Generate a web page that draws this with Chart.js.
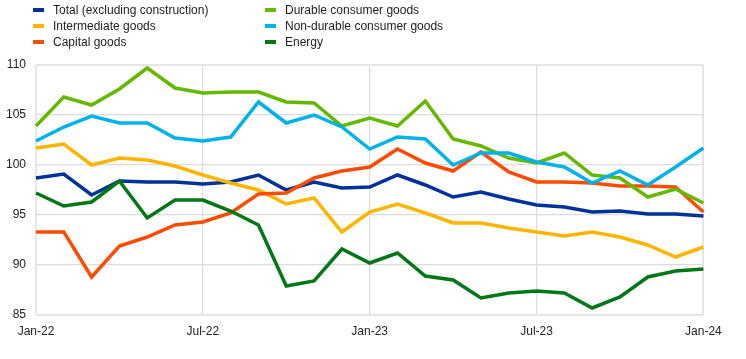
<!DOCTYPE html>
<html>
<head>
<meta charset="utf-8">
<script src="https://cdn.jsdelivr.net/npm/chart.js@4"></script>
<style>
  html, body { margin: 0; padding: 0; background: #fff; }
  #wrap { position: relative; width: 746px; height: 359px; }
  #legend { position: absolute; left: 0; top: 0; width: 746px; height: 60px;
    font-family: "Liberation Sans", Arial, sans-serif; font-size: 12px; color: #222; }
  .item { position: absolute; white-space: nowrap; line-height: 14px; }
  .mark { position: absolute; width: 11px; height: 4px; }
</style>
</head>
<body>
<div id="wrap">
  <canvas id="c" width="746" height="359"></canvas>
  <div id="legend"></div>
</div>
<script>
const labels = ["Jan-22","Feb-22","Mar-22","Apr-22","May-22","Jun-22","Jul-22","Aug-22","Sep-22","Oct-22","Nov-22","Dec-22",
  "Jan-23","Feb-23","Mar-23","Apr-23","May-23","Jun-23","Jul-23","Aug-23","Sep-23","Oct-23","Nov-23","Dec-23","Jan-24"];
const seriesNames = ["Total (excluding construction)","Intermediate goods","Capital goods","Durable consumer goods","Non-durable consumer goods","Energy"];
const total = [98.7, 99.1, 97.0, 98.4, 98.3, 98.3, 98.1, 98.3, 99.0, 97.5, 98.3, 97.7, 97.8, 99.0, 98.0, 96.8, 97.3, 96.6, 96.0, 95.8, 95.3, 95.4, 95.1, 95.1, 94.9];
const intermediate = [101.7, 102.1, 100.0, 100.7, 100.5, 99.9, 99.0, 98.2, 97.5, 96.1, 96.7, 93.3, 95.3, 96.1, 95.2, 94.2, 94.2, 93.7, 93.3, 92.9, 93.3, 92.8, 92.0, 90.8, 91.8];
const capital = [93.3, 93.3, 88.8, 91.9, 92.8, 94.0, 94.3, 95.2, 97.1, 97.2, 98.7, 99.4, 99.8, 101.6, 100.2, 99.4, 101.3, 99.3, 98.3, 98.3, 98.2, 97.9, 97.9, 97.8, 95.3];
const durable = [103.9, 106.8, 106.0, 107.6, 109.7, 107.7, 107.2, 107.3, 107.3, 106.3, 106.2, 103.9, 104.7, 103.9, 106.4, 102.6, 101.9, 100.7, 100.2, 101.2, 99.0, 98.7, 96.8, 97.6, 96.2];
const nondurable = [102.4, 103.8, 104.9, 104.2, 104.2, 102.7, 102.4, 102.8, 106.3, 104.2, 105.0, 103.8, 101.6, 102.8, 102.6, 100.0, 101.2, 101.2, 100.3, 99.8, 98.2, 99.4, 98.0, 99.8, 101.7];
const energy = [97.2, 95.9, 96.3, 98.4, 94.7, 96.5, 96.5, 95.4, 94.0, 87.9, 88.4, 91.6, 90.2, 91.2, 88.9, 88.5, 86.7, 87.2, 87.4, 87.2, 85.7, 86.8, 88.8, 89.4, 89.6];
const yTicks = [85, 90, 95, 100, 105, 110];

const colors = ["#003299", "#FFB400", "#FF4B00", "#65B800", "#00B1EA", "#007816"];
const values = [total, intermediate, capital, durable, nondurable, energy];

const datasets = values.map((v, i) => ({
  label: seriesNames[i],
  data: v,
  borderColor: colors[i],
  backgroundColor: colors[i],
  borderWidth: 3.5,
  pointRadius: 0,
  tension: 0,
  fill: false,
  order: 6 - i
}));

const ctx = document.getElementById('c').getContext('2d');
const chart = new Chart(ctx, {
  type: 'line',
  data: { labels: labels, datasets: datasets },
  options: {
    responsive: false,
    animation: false,
    devicePixelRatio: 1,
    layout: { padding: { top: 65, right: 42.6, left: 0, bottom: 0 } },
    plugins: { legend: { display: false }, tooltip: { enabled: false } },
    scales: {
      x: {
        type: 'category',
        offset: false,
        border: { display: false },
        grid: {
          drawTicks: false,
          color: c => (c.index === 0 || c.index === labels.length - 1) ? '#e6e6e6' : (c.index % 6 === 0 ? '#dcdcdc' : 'rgba(0,0,0,0)'),
          lineWidth: c => (c.index === 0 || c.index === labels.length - 1) ? 2 : 1.2
        },
        ticks: {
          autoSkip: false, maxRotation: 0, minRotation: 0, padding: 9,
          color: '#222',
          font: { family: '"Liberation Sans", Arial, sans-serif', size: 12 },
          callback: function(val, idx) { return idx % 6 === 0 ? labels[idx] : ''; }
        },
        afterFit: s => { s.height = 44; }
      },
      y: {
        min: yTicks[0], max: yTicks[yTicks.length - 1],
        border: { display: false },
        afterBuildTicks: s => { s.ticks = yTicks.map(v => ({ value: v })); },
        grid: {
          drawTicks: false,
          color: c => (c.index === 0 || c.index === yTicks.length - 1) ? '#e6e6e6' : '#dcdcdc',
          lineWidth: c => (c.index === 0 || c.index === yTicks.length - 1) ? 2 : 1.2
        },
        ticks: {
          padding: 10, color: '#222',
          font: { family: '"Liberation Sans", Arial, sans-serif', size: 12 }
        },
        afterFit: s => { s.width = 36; }
      }
    }
  }
});

// HTML legend (two columns, column-wise order)
const legend = document.getElementById('legend');
chart.data.datasets.forEach((ds, i) => {
  const col = Math.floor(i / 3), row = i % 3;
  const markX = col === 0 ? 33 : 265;
  const textX = col === 0 ? 53 : 285;
  const cy = 9.7 + row * 16;
  const m = document.createElement('div');
  m.className = 'mark';
  m.style.left = markX + 'px';
  m.style.top = (cy - 2) + 'px';
  m.style.background = ds.borderColor;
  legend.appendChild(m);
  const t = document.createElement('div');
  t.className = 'item';
  t.style.left = textX + 'px';
  t.style.top = (cy - 7) + 'px';
  t.textContent = ds.label;
  legend.appendChild(t);
});
</script>
</body>
</html>
